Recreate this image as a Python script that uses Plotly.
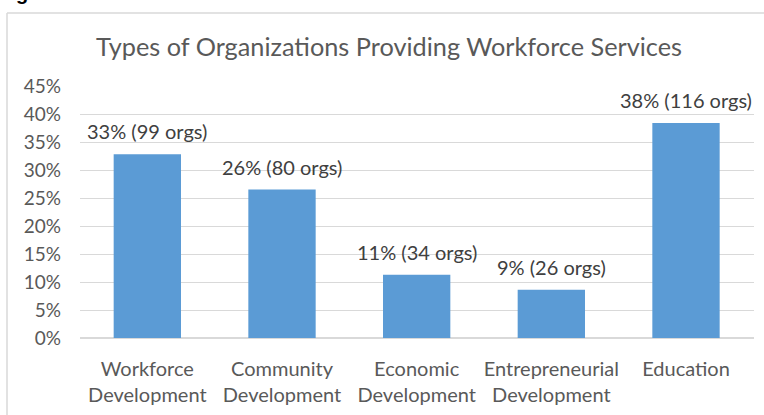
import plotly.graph_objects as go

categories = ["Workforce<br>Development", "Community<br>Development", "Economic<br>Development",
              "Entrepreneurial<br>Development", "Education"]
org_counts = [99, 80, 34, 26, 116]
percent_values = [32.8, 26.5, 11.3, 8.6, 38.4]
bar_labels = ["33% (99 orgs)", "26% (80 orgs)", "11% (34 orgs)", "9% (26 orgs)", "38% (116 orgs)"]
tick_vals = [0, 5, 10, 15, 20, 25, 30, 35, 40, 45]
tick_text = [f"{v}%" for v in tick_vals]

FONT = "Lato"
GREY = "#595959"

fig = go.Figure(go.Bar(
    x=categories, y=percent_values,
    marker=dict(color="#5B9BD5", line=dict(width=0)),
    hovertext=bar_labels,
))

L, R, T, B = 80, 10, 86, 77
W, H = 764, 415
pw, ph = W - L - R, H - T - B

def px_x(p):
    return (p - L) / pw

def px_y(p):
    return (H - B - p) / ph

label_annotations = [
    dict(x=c, y=v, text=t, xref="x", yref="y", xanchor="center", yanchor="bottom",
         yshift=9, showarrow=False, font=dict(family=FONT, size=20, color="#404040"))
    for c, v, t in zip(categories, percent_values, bar_labels)
]

fig.update_layout(
    width=W, height=H,
    margin=dict(l=L, r=R, t=T, b=B, autoexpand=False),
    paper_bgcolor="white", plot_bgcolor="white",
    bargap=0.5,
    showlegend=False,
    title=dict(text="Types of Organizations Providing Workforce Services",
               x=389 / W, xanchor="center", y=1 - 47 / H, yanchor="middle",
               font=dict(family=FONT, size=25.3, color=GREY)),
    xaxis=dict(showgrid=False, showline=False, ticks="", automargin=False,
               ticklabelstandoff=17,
               tickfont=dict(family=FONT, size=20, color=GREY)),
    yaxis=dict(range=[0, 45], tickvals=tick_vals, ticktext=tick_text, automargin=False,
               showgrid=True, gridcolor="#d9d9d9", gridwidth=1,
               zeroline=True, zerolinecolor="#d9d9d9", showline=False, ticks="",
               ticklabelstandoff=18,
               tickfont=dict(family=FONT, size=19, color=GREY)),
    shapes=[
        dict(type="line", xref="paper", yref="paper",
             x0=px_x(7), x1=px_x(W + 5), y0=px_y(13), y1=px_y(13),
             line=dict(color="#d9d9d9", width=1.5), layer="below"),
        dict(type="line", xref="paper", yref="paper",
             x0=px_x(7), x1=px_x(7), y0=px_y(13), y1=px_y(H + 5),
             line=dict(color="#d9d9d9", width=1.5), layer="below"),
    ],
    annotations=label_annotations + [
        dict(text="<b>g</b>", xref="paper", yref="paper", x=px_x(14), y=px_y(6),
             xanchor="left", yanchor="bottom", showarrow=False,
             font=dict(family="Liberation Sans", size=20, color="black"))],
)

fig.write_html("out.html", config={"displayModeBar": False},
               post_script="document.body.style.margin='0';document.body.style.padding='0';")
